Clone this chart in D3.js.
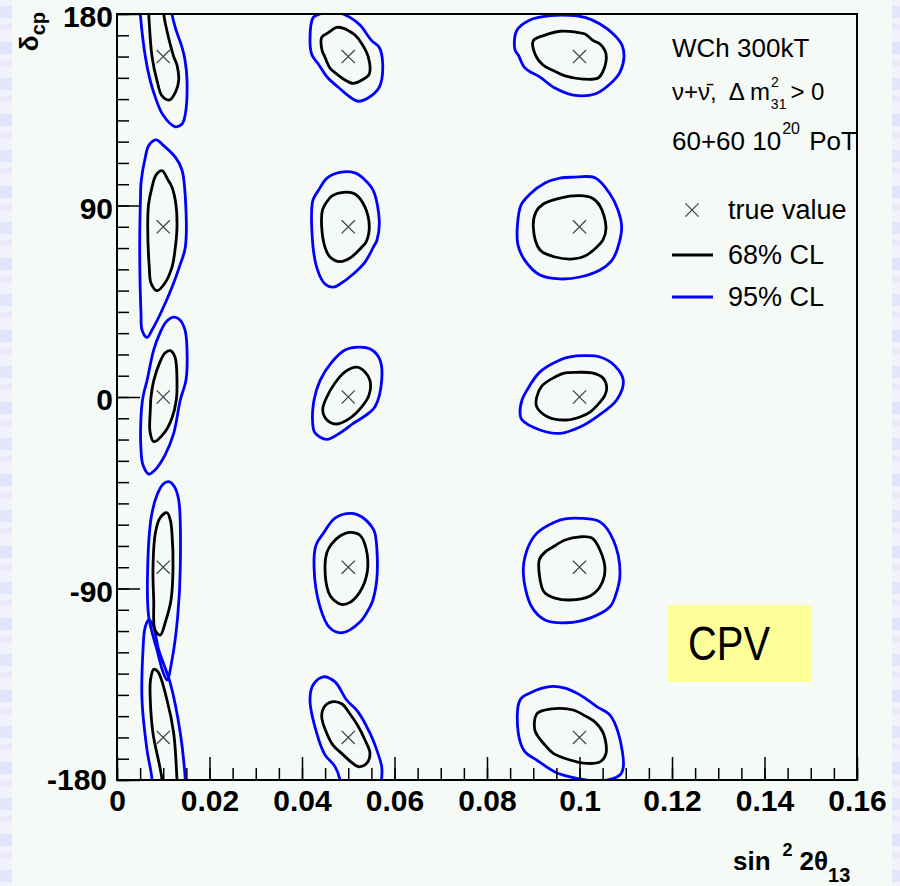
<!DOCTYPE html>
<html>
<head>
<meta charset="utf-8">
<script src="https://cdn.jsdelivr.net/npm/d3@7"></script>
<style>
  body { margin: 0; background: #f5faf6; }
  svg { display: block; }
  text { font-family: "Liberation Sans", Arial, Helvetica, sans-serif; }
</style>
</head>
<body>
<svg id="chart"></svg>
<script>
const width = 900
const height = 886

// axis values
const xDomain = [0, 0.16]
const yDomain = [-180, 180]
const xMajor = [0, 0.02, 0.04, 0.06, 0.08, 0.1, 0.12, 0.14, 0.16]
const xLabels = ["0", "0.02", "0.04", "0.06", "0.08", "0.1", "0.12", "0.14", "0.16"]
const yMajor = [-180, -90, 0, 90, 180]
const yLabels = ["-180", "-90", "0", "90", "180"]

// true values (sin^2 2theta13, delta_cp)
const sin2True = [0.01, 0.05, 0.1]
const deltaTrue = [160, 80, 0, -80, -160]

// 68% CL contours, points [sin2 2theta13, delta_cp]
const cl68 = [
  // sin2 = 0.01
  [[0.0065,192],[0.00685,180],[0.00757,160],[0.00865,148.7],[0.00973,141.5],[0.01139,139.6],[0.01265,143.3],[0.01334,148.7],[0.01297,156],[0.01226,160],[0.01081,172],[0.0101,180],[0.00973,192]],
  [[0.00973,106.4],[0.01103,102],[0.01189,98.6],[0.01276,90.2],[0.01297,79.8],[0.01254,69.1],[0.01189,61],[0.01038,53.6],[0.00865,50],[0.00735,53.6],[0.00698,61],[0.00664,79.8],[0.00681,90.2],[0.00757,98.6],[0.00843,104.3]],
  [[0.01152,21.8],[0.01254,18.8],[0.01297,7.7],[0.01282,-1.4],[0.01189,-9.9],[0.01038,-16.4],[0.00794,-21],[0.00714,-16.4],[0.0072,-6.1],[0.00735,0],[0.00794,7.7],[0.0093,16.5],[0.01038,20.7]],
  [[0.01081,-54.4],[0.01152,-57.8],[0.01189,-64.1],[0.01211,-80.5],[0.01168,-95.4],[0.01059,-104.8],[0.00936,-111.9],[0.00822,-109.5],[0.00794,-95.4],[0.00778,-80.5],[0.00828,-64.1],[0.0093,-56.9]],
  [[0.00794,-128],[0.00887,-129.2],[0.01081,-142.4],[0.01226,-158],[0.01297,-180],[0.01319,-192],[0.00973,-192],[0.00973,-180],[0.00778,-158],[0.0072,-142.4],[0.00724,-133]],
  // sin2 = 0.05
  [[0.0475,173.7],[0.04562,171.1],[0.04426,169],[0.04432,163.1],[0.04497,159.7],[0.04605,154.6],[0.0475,151.8],[0.0493,149],[0.05109,147.4],[0.05297,149],[0.05455,151.8],[0.05434,159.7],[0.05297,165.9],[0.05146,170.1],[0.05001,172.2],[0.04886,173.4]],
  [[0.04893,96.2],[0.05146,95.4],[0.05362,89.2],[0.05455,79.8],[0.05384,72.8],[0.05291,70.4],[0.05038,65.3],[0.04822,63.6],[0.04605,65.8],[0.04497,70.4],[0.04426,79.8],[0.04443,87.9],[0.04519,91.2],[0.04649,94.5]],
  [[0.05183,14],[0.05362,11.8],[0.0547,7.7],[0.05449,0.9],[0.05291,-4.6],[0.05038,-9.9],[0.0475,-12.7],[0.04541,-10.8],[0.04448,-6.1],[0.04534,-0.1],[0.04713,6.6],[0.0493,11.8]],
  [[0.05038,-63.6],[0.05254,-65],[0.05384,-71.1],[0.05412,-82.1],[0.05254,-91.5],[0.05038,-96.5],[0.04858,-97.5],[0.0467,-95.1],[0.04569,-91.5],[0.04497,-79.8],[0.04541,-72.9],[0.04642,-69],[0.04822,-65.3]],
  [[0.04677,-143.2],[0.04497,-145.2],[0.04426,-150.2],[0.04534,-158],[0.0467,-163.6],[0.04858,-167.5],[0.05217,-173.7],[0.05384,-172.5],[0.0547,-167.5],[0.05362,-161.2],[0.05211,-154.6],[0.05038,-149],[0.04865,-144.3]],
  // sin2 = 0.1
  [[0.09584,171.9],[0.09254,170.1],[0.09001,167.5],[0.09038,161.2],[0.09211,156],[0.09433,153.4],[0.09687,150.9],[0.10082,149.4],[0.104,149.9],[0.10515,153.4],[0.10573,161.2],[0.10443,165.9],[0.10299,167.5],[0.10119,170.6],[0.0994,171.4]],
  [[0.1001,94.6],[0.1027,93.5],[0.10443,89.8],[0.10573,79.8],[0.10508,73.8],[0.10372,70.4],[0.10119,66.3],[0.09866,64.9],[0.0947,65.8],[0.09146,69.1],[0.09001,79.8],[0.09059,87],[0.09217,90.7],[0.09579,93.5]],
  [[0.0994,11.6],[0.1027,11.3],[0.10508,8.9],[0.10588,4.6],[0.10551,0.9],[0.10443,-2.4],[0.10227,-7.1],[0.1001,-9.4],[0.09722,-10.8],[0.09318,-9.4],[0.09074,-4.6],[0.09074,-0.1],[0.09188,5.2],[0.0947,9.4],[0.09687,11.3]],
  [[0.1001,-65.7],[0.1027,-66.3],[0.10443,-71.9],[0.10551,-81.3],[0.10443,-89.2],[0.10227,-93.5],[0.09795,-95.4],[0.0947,-94.5],[0.09254,-92.1],[0.09182,-89.2],[0.0913,-76.6],[0.09254,-72.9],[0.09433,-70.4],[0.09687,-67.2]],
  [[0.09579,-146.3],[0.09254,-147.1],[0.09074,-149],[0.09038,-156.8],[0.09254,-163.6],[0.09433,-167.5],[0.09795,-170.6],[0.10156,-172.2],[0.10443,-171.5],[0.10573,-167.5],[0.10515,-158],[0.10335,-152.7],[0.10156,-150.3],[0.09865,-147.1]]
]

// 95% CL contours
const cl95 = [
  // sin2 = 0.01
  [[0.00476,192],[0.00504,180],[0.00612,160],[0.00714,149],[0.00828,140.9],[0.00995,132.5],[0.01261,127],[0.01405,128.3],[0.01477,133],[0.01514,148.7],[0.0147,158.4],[0.01405,164.4],[0.01276,172.5],[0.01189,180],[0.01146,192]],
  [[0.0085,120.8],[0.00995,118.4],[0.01261,112.7],[0.01405,106.7],[0.01477,93.9],[0.01477,70.4],[0.01362,62],[0.01189,51.6],[0.00936,39],[0.00757,31.5],[0.00649,28],[0.00541,31.5],[0.00519,39],[0.00491,70.4],[0.00508,93.9],[0.00519,100.6],[0.00612,112.7],[0.00692,118.4]],
  [[0.01226,37.5],[0.01362,36.2],[0.0147,31.5],[0.01514,22.1],[0.01492,8],[0.01369,-1.4],[0.01226,-17.1],[0.01038,-27.3],[0.00822,-34.3],[0.00685,-36.2],[0.00562,-32],[0.00519,-24.9],[0.00519,-9.3],[0.00562,0],[0.00649,7.7],[0.00794,22.1],[0.0093,30.1],[0.01059,35.2]],
  [[0.01118,-39.8],[0.01232,-41.8],[0.01334,-48.4],[0.01369,-79.8],[0.01312,-103.2],[0.01189,-123.6],[0.01081,-133],[0.00995,-129.2],[0.00865,-118.9],[0.00685,-103.2],[0.00664,-79.8],[0.00742,-56.3],[0.00865,-46.1],[0.00995,-41]],
  [[0.00685,-104.8],[0.00778,-107.2],[0.00902,-118.9],[0.01152,-134.5],[0.01369,-158],[0.01477,-180],[0.01492,-192],[0.00735,-192],[0.00757,-180],[0.00649,-165.9],[0.00541,-142.4],[0.00562,-118.9],[0.00605,-108.6]],
  // sin2 = 0.05
  [[0.04244,178.4],[0.04173,167.5],[0.04216,160.7],[0.04353,156.5],[0.04562,149.9],[0.04785,145.6],[0.05038,141],[0.05217,139],[0.05427,140.5],[0.05671,145.6],[0.05745,156.5],[0.05665,164.5],[0.05507,167.5],[0.05254,174.8],[0.05038,178.4],[0.04822,180.5],[0.04605,181],[0.04389,180]],
  [[0.04822,105.6],[0.05146,105.3],[0.05362,102],[0.05542,97],[0.05671,82.9],[0.05622,73.8],[0.05542,70.4],[0.05362,63.4],[0.05109,57.8],[0.04822,53.1],[0.04677,51.6],[0.04497,53.1],[0.04318,60.9],[0.0421,79.8],[0.04238,92.6],[0.04353,97],[0.04541,102.9]],
  [[0.05254,23.4],[0.05513,22.1],[0.05687,17.4],[0.05723,7.7],[0.05578,-4.6],[0.05362,-8.9],[0.05109,-12.4],[0.04822,-16.9],[0.04534,-19.9],[0.04281,-16.9],[0.04231,-12.4],[0.0426,-1.4],[0.04389,7.7],[0.04649,16.5],[0.0493,22.1]],
  [[0.05075,-54.7],[0.05297,-56.4],[0.05513,-61.1],[0.05578,-64.1],[0.05627,-82.9],[0.05534,-95.4],[0.0547,-98.6],[0.05254,-105.7],[0.04858,-110.8],[0.04605,-108.6],[0.04389,-98.6],[0.0426,-79.8],[0.04303,-69.6],[0.04461,-64.1],[0.04714,-56.9]],
  [[0.04461,-131.5],[0.04238,-135.4],[0.04173,-142.4],[0.04318,-158],[0.04497,-168.2],[0.04714,-173.7],[0.04822,-180],[0.04865,-192],[0.0573,-192],[0.05723,-180],[0.05723,-173.7],[0.05578,-163.6],[0.0547,-158],[0.05211,-148],[0.04966,-142.4],[0.04714,-133.9]],
  // sin2 = 0.1
  [[0.09362,179.2],[0.0893,177.2],[0.08642,172.2],[0.08605,163.1],[0.08677,160.7],[0.08822,154.6],[0.09146,150.3],[0.0947,145.2],[0.09866,141.9],[0.10335,142.4],[0.10659,147.1],[0.10876,152.7],[0.10962,159.7],[0.10919,165.4],[0.10731,170.6],[0.10443,175.3],[0.10119,178.4],[0.09795,179.4]],
  [[0.09866,103.3],[0.10335,103],[0.10659,95.4],[0.10832,87.9],[0.10912,79.8],[0.10811,69.1],[0.10696,64.1],[0.10443,59.7],[0.1001,56.4],[0.09579,55.5],[0.09146,57.3],[0.08822,64.1],[0.0867,71.4],[0.08655,79.8],[0.08735,90.2],[0.0893,95.4],[0.09254,100.6],[0.09579,102.9]],
  [[0.10082,19.4],[0.10443,18.8],[0.10768,14.6],[0.10948,7.7],[0.10804,-1.4],[0.10372,-9.3],[0.1001,-14.1],[0.09579,-17.1],[0.09146,-15.5],[0.08757,-10.8],[0.08714,-7.7],[0.08757,-1.4],[0.08858,3],[0.09146,11.8],[0.09579,17.4],[0.09795,18.8]],
  [[0.1001,-57],[0.10443,-58.7],[0.10731,-67.2],[0.10876,-82.9],[0.10768,-94],[0.10659,-98.6],[0.10227,-103.9],[0.09722,-106.1],[0.09254,-104.8],[0.08966,-98.6],[0.08785,-82.9],[0.08865,-71.9],[0.09074,-64.1],[0.0947,-58.7],[0.09687,-57.3]],
  [[0.09362,-136.1],[0.0893,-139.1],[0.08714,-142.4],[0.08677,-158],[0.08822,-166.8],[0.09074,-170.6],[0.0947,-176.2],[0.0994,-179.2],[0.10443,-180.5],[0.10876,-177.6],[0.10948,-173.7],[0.1084,-158],[0.10659,-149.5],[0.10372,-145.5],[0.1001,-140],[0.09687,-136.8]]
]

const legendItems = ["true value", "68% CL", "95% CL"]
const infoLines = ["WCh 300kT"]

const plot = {left: 117, top: 14, right: 857, bottom: 780}

const svg = d3.select("#chart")
    .attr("width", width)
    .attr("height", height)
    .attr("viewBox", [0, 0, width, height])

// page background with the lavender slide strips
const defs = svg.append("defs")
const pat = defs.append("pattern")
    .attr("id", "strip")
    .attr("width", 12).attr("height", 36)
    .attr("patternUnits", "userSpaceOnUse")
pat.append("rect").attr("width", 12).attr("height", 36).attr("fill", "#f2f2fd")
pat.append("rect").attr("y", 6).attr("width", 12).attr("height", 12).attr("fill", "#e4e4fa")
pat.append("rect").attr("y", 24).attr("width", 12).attr("height", 6).attr("fill", "#eaeafb")

svg.append("rect").attr("width", width).attr("height", height).attr("fill", "#f5faf6")
svg.append("rect").attr("x", 0).attr("width", 12).attr("height", height).attr("fill", "url(#strip)")
svg.append("rect").attr("x", 892).attr("width", 8).attr("height", height).attr("fill", "url(#strip)")

const x = d3.scaleLinear().domain(xDomain).range([plot.left, plot.right])
const y = d3.scaleLinear().domain(yDomain).range([plot.bottom, plot.top])

defs.append("clipPath").attr("id", "plot-clip")
  .append("rect")
    .attr("x", plot.left).attr("y", plot.top)
    .attr("width", plot.right - plot.left).attr("height", plot.bottom - plot.top)

// contours
const contourLine = d3.line()
    .x(d => x(d[0]))
    .y(d => y(d[1]))
    .curve(d3.curveCatmullRomClosed.alpha(0.5))

const contourG = svg.append("g").attr("clip-path", "url(#plot-clip)")

contourG.selectAll(".cl95")
  .data(cl95)
  .join("path")
    .attr("class", "cl95")
    .attr("d", contourLine)
    .attr("fill", "none")
    .attr("stroke", "#0000ff")
    .attr("stroke-width", 2.8)

contourG.selectAll(".cl68")
  .data(cl68)
  .join("path")
    .attr("class", "cl68")
    .attr("d", contourLine)
    .attr("fill", "none")
    .attr("stroke", "#000")
    .attr("stroke-width", 2.8)

// true value markers
const truePoints = d3.cross(sin2True, deltaTrue)
const cross = d3.symbol(d3.symbolX, 115)

svg.selectAll(".truth")
  .data(truePoints)
  .join("path")
    .attr("class", "truth")
    .attr("transform", d => `translate(${x(d[0])},${y(d[1])})`)
    .attr("d", cross)
    .attr("fill", "none")
    .attr("stroke", "#444")
    .attr("stroke-width", 1.3)

// axes: ticks inside the frame
const minorX = d3.range(0, 0.16 + 1e-9, 0.005)
const minorY = d3.range(-180, 180 + 1e-9, 10)

svg.append("g")
    .attr("transform", `translate(0,${plot.bottom})`)
    .call(d3.axisBottom(x).tickValues(minorX).tickSize(-12).tickFormat(""))
    .call(g => g.select(".domain").remove())
    .call(g => g.selectAll("line").attr("stroke", "#000").attr("stroke-width", 1.5))

svg.append("g")
    .attr("transform", `translate(0,${plot.bottom})`)
    .call(d3.axisBottom(x).tickValues(xMajor).tickSize(-23).tickPadding(10)
        .tickFormat((d, i) => xLabels[i]))
    .call(g => g.select(".domain").remove())
    .call(g => g.selectAll("line").attr("stroke", "#000").attr("stroke-width", 1.5))
    .call(g => g.selectAll("text")
        .attr("font-family", "'Liberation Sans', Arial, sans-serif")
        .attr("font-size", 30).attr("font-weight", "bold").attr("fill", "#000"))

svg.append("g")
    .attr("transform", `translate(${plot.left},0)`)
    .call(d3.axisLeft(y).tickValues(minorY).tickSize(-12).tickFormat(""))
    .call(g => g.select(".domain").remove())
    .call(g => g.selectAll("line").attr("stroke", "#000").attr("stroke-width", 1.5))

svg.append("g")
    .attr("transform", `translate(${plot.left},0)`)
    .call(d3.axisLeft(y).tickValues(yMajor).tickSize(-23).tickPadding(4)
        .tickFormat((d, i) => yLabels[i]))
    .call(g => g.select(".domain").remove())
    .call(g => g.selectAll("line").attr("stroke", "#000").attr("stroke-width", 1.5))
    .call(g => g.selectAll("text")
        .attr("dy", "0.42em")
        .attr("font-family", "'Liberation Sans', Arial, sans-serif")
        .attr("font-size", 30).attr("font-weight", "bold").attr("fill", "#000"))
    // the bottom label sits just left of the x-axis "0"
    .call(g => g.selectAll(".tick").filter(d => d === -180).select("text")
        .attr("x", -10).attr("dy", "0.3em"))

// frame
svg.append("rect")
    .attr("x", plot.left).attr("y", plot.top)
    .attr("width", plot.right - plot.left).attr("height", plot.bottom - plot.top)
    .attr("fill", "none").attr("stroke", "#000").attr("stroke-width", 2)

// axis titles
const xTitle = svg.append("text")
    .attr("x", 733).attr("y", 870)
    .attr("font-size", 26).attr("font-weight", "bold")
xTitle.append("tspan").text("sin")
xTitle.append("tspan").attr("dx", 12).attr("dy", -14).attr("font-size", 18).text("2")
xTitle.append("tspan").attr("dx", 7).attr("dy", 14).text("2θ")
xTitle.append("tspan").attr("dy", 12).attr("font-size", 20).text("13")

const yTitle = svg.append("text")
    .attr("transform", "translate(38,12) rotate(-90)")
    .attr("text-anchor", "end")
    .attr("font-weight", "bold")
yTitle.append("tspan").attr("font-size", 26).text("δ")
yTitle.append("tspan").attr("font-size", 20).attr("dy", 7).text("cp")

// info text
const infoX = 672
svg.append("text").attr("x", infoX).attr("y", 57).attr("font-size", 26).text(infoLines[0])

const line2 = svg.append("text").attr("x", infoX).attr("y", 100).attr("font-size", 24)
    .attr("font-family", "'DejaVu Sans', sans-serif")
line2.append("tspan").text("ν+ν\u0304,")
line2.append("tspan").attr("dx", 12).text("Δ m")
line2.append("tspan").attr("dx", 1).attr("dy", -13).attr("font-size", 14).text("2")
line2.append("tspan").attr("dx", -8).attr("dy", 22).attr("font-size", 14).text("31")
line2.append("tspan").attr("dx", 4).attr("dy", -9).text("> 0")

const line3 = svg.append("text").attr("x", infoX).attr("y", 150).attr("font-size", 26)
line3.append("tspan").text("60+60 10")
line3.append("tspan").attr("dx", 1).attr("dy", -16).attr("font-size", 16).text("20")
line3.append("tspan").attr("dx", 2).attr("dy", 16).text(" PoT")

// legend
const legendY = [210, 255, 297]
const legendTextX = 728
svg.append("path")
    .attr("transform", `translate(692,${legendY[0]})`)
    .attr("d", cross)
    .attr("fill", "none").attr("stroke", "#444").attr("stroke-width", 1.3)
svg.append("line")
    .attr("x1", 672).attr("x2", 713).attr("y1", legendY[1]).attr("y2", legendY[1])
    .attr("stroke", "#000").attr("stroke-width", 3)
svg.append("line")
    .attr("x1", 672).attr("x2", 713).attr("y1", legendY[2]).attr("y2", legendY[2])
    .attr("stroke", "#0000ff").attr("stroke-width", 3)
svg.selectAll(".legend-text")
  .data(legendItems)
  .join("text")
    .attr("class", "legend-text")
    .attr("x", legendTextX)
    .attr("y", (d, i) => legendY[i] + 9)
    .attr("font-size", 27)
    .text(d => d)

// CPV box
svg.append("rect")
    .attr("x", 668).attr("y", 605).attr("width", 144).attr("height", 77)
    .attr("fill", "#ffff99")
svg.append("text")
    .attr("x", 688).attr("y", 660)
    .attr("font-family", "'Comic Sans MS', 'Comic Neue', 'DejaVu Sans', sans-serif")
    .attr("font-size", 48)
    .attr("textLength", 82)
    .attr("lengthAdjust", "spacingAndGlyphs")
    .attr("fill", "#000")
    .text("CPV")
</script>
</body>
</html>
